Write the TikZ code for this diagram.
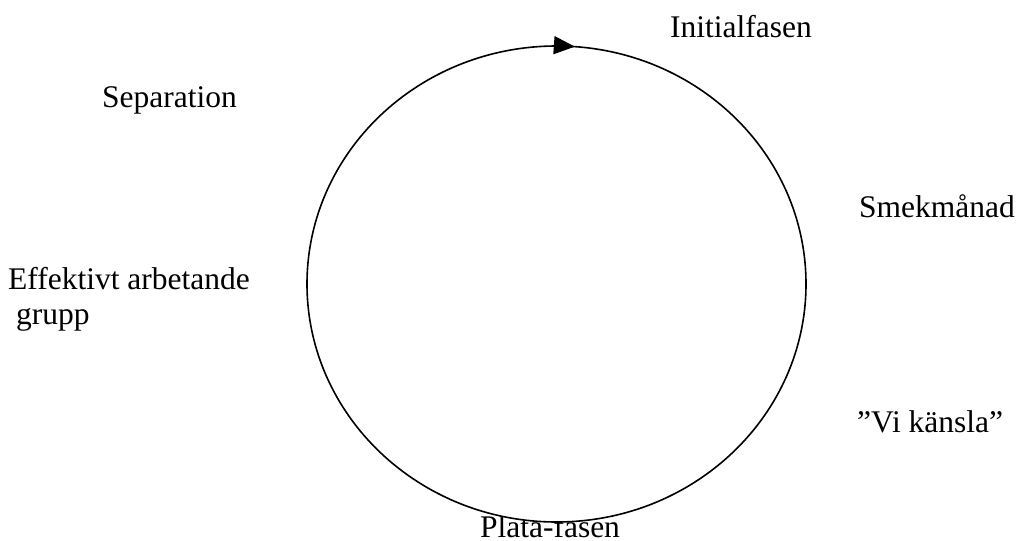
\documentclass[tikz,border=0pt]{standalone}
\usepackage{fontspec}
\setmainfont{Liberation Serif}
\usepackage{tikz}
\usetikzlibrary{arrows.meta,decorations.markings}
\tikzset{
  phase/.style={inner sep=0pt,anchor=base west,font=\fontsize{31.5}{35}\selectfont},
  ring/.style={line width=1.6pt,fill=white,postaction={decorate},
    decoration={markings,mark=at position 0.762 with {\arrow{Triangle[length=21pt,width=18pt]}}}},
}
\begin{document}
\begin{tikzpicture}[x=1pt,y=-1pt]
  \useasboundingbox (0,0) rectangle (1018,541);
  \node[phase] (init) at (670,37) {Initialfasen};
  \node[phase] (sep) at (102,107) {Separation};
  \node[phase] (smek) at (859,217) {Smekmånad};
  \node[phase,align=left] (eff) at (8,324) {Effektivt arbetande\\\hspace*{.25em}grupp};
  \node[phase] (vi) at (857,432) {”Vi känsla”};
  \node[phase,anchor=base] (plata) at (550,537) {Plata-fasen};
  \draw[ring] (556.5,284) ellipse [x radius=249.5,y radius=238];
\end{tikzpicture}
\end{document}
